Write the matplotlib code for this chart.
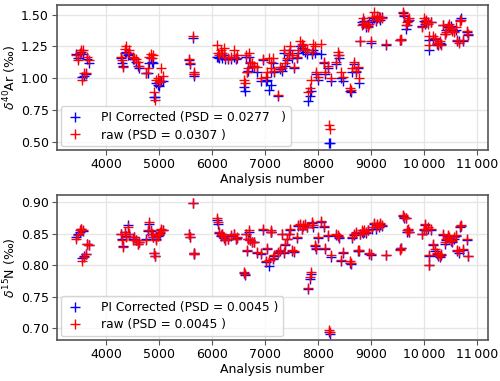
import matplotlib
matplotlib.use('Agg')
from matplotlib import pyplot as plt
from matplotlib.ticker import FuncFormatter

# analysis numbers (shared by both panels)
analysis = [3440, 3470, 3500, 3520, 3540, 3570, 3585, 3620, 3645, 3680,
            4290, 4305, 4320, 4350, 4380, 4410, 4440, 4500, 4530, 4560, 4595, 4625, 4760, 4790, 4815, 4845, 4865, 4880,
            4905, 4920, 4950, 4970, 4990, 5010, 5040, 5070,
            5560, 5575, 5640, 5650, 5665,
            6100, 6115, 6130, 6160, 6185, 6220, 6240, 6290, 6350, 6420, 6440, 6470,
            6600, 6615, 6630, 6660, 6680, 6700, 6720, 6750, 6790, 6850, 6920, 6950,
            7010, 7040, 7070, 7100, 7115, 7150, 7175, 7240, 7270, 7315, 7350, 7380, 7410, 7440, 7470, 7500, 7535,
            7595, 7625, 7655, 7690, 7720, 7750, 7780, 7810, 7840, 7860, 7880, 7900, 7935, 7965, 8000, 8060,
            8100, 8130, 8175, 8205, 8225, 8240, 8340, 8370, 8400, 8430, 8460, 8590, 8610, 8640, 8675, 8705, 8740,
            8760, 8790, 8820, 8840, 8870, 8900, 8930, 8960, 8990, 9020, 9050, 9080, 9110, 9140, 9170, 9200, 9270,
            9540, 9555, 9600, 9620, 9645, 9670, 9700, 9720,
            9960, 9990, 10010, 10040, 10060, 10080, 10095, 10120, 10170, 10200, 10230, 10260, 10290, 10320, 10350,
            10380, 10410, 10440, 10470, 10500, 10530, 10560, 10590, 10620, 10650, 10680, 10700, 10720, 10810, 10830]

ar_raw = [1.18, 1.14, 1.20, 1.22, 0.99, 1.22, 1.04, 1.04, 1.17, 1.14,
          1.17, 1.14, 1.09, 1.23, 1.25, 1.20, 1.22, 1.17, 1.16, 1.15, 1.13, 1.10, 1.04, 1.08, 1.17, 1.19, 1.16, 1.18,
          0.89, 0.83, 0.99, 1.00, 0.97, 0.98, 1.08, 1.02,
          1.15, 1.12, 1.33, 1.05, 1.03,
          1.26, 1.20, 1.18, 1.22, 1.20, 1.24, 1.17, 1.16, 1.17, 1.22, 1.16, 1.18,
          0.99, 0.96, 1.18, 1.05, 1.08, 1.20, 1.13, 1.12, 1.10, 1.09, 1.00, 1.15,
          1.01, 1.05, 1.16, 1.13, 1.08, 1.16, 1.06, 0.87, 1.09, 1.08, 1.22, 1.12, 1.16, 1.20, 1.25, 1.18, 1.09,
          1.17, 1.22, 1.29, 1.27, 1.26, 1.23, 1.22, 0.89, 0.92, 0.99, 1.21, 1.27, 1.25, 1.05, 1.01, 1.27,
          1.13, 1.05, 1.10, 0.63, 0.60, 1.00, 1.13, 1.21, 1.18, 1.05, 1.01, 0.92, 0.91, 1.08, 1.13, 1.06, 1.09,
          1.00, 1.29, 1.42, 1.47, 1.44, 1.42, 1.40, 1.43, 1.29, 1.48, 1.52, 1.46, 1.49, 1.47, 1.48, 1.47, 1.27,
          1.30, 1.31, 1.52, 1.50, 1.42, 1.44, 1.46, 1.47,
          1.40, 1.47, 1.44, 1.46, 1.43, 1.33, 1.26, 1.44, 1.33, 1.32, 1.28, 1.27, 1.29, 1.26, 1.42,
          1.35, 1.36, 1.41, 1.43, 1.39, 1.37, 1.36, 1.40, 1.30, 1.28, 1.45, 1.46, 1.30, 1.37, 1.35]

ar_pi = [1.19, 1.16, 1.19, 1.21, 1.01, 1.19, 1.02, 1.03, 1.15, 1.12,
         1.16, 1.12, 1.10, 1.20, 1.21, 1.18, 1.19, 1.15, 1.15, 1.13, 1.10, 1.08, 1.04, 1.04, 1.12, 1.16, 1.13, 1.12,
         0.85, 0.85, 0.96, 0.95, 0.94, 0.97, 0.98, 0.98,
         1.14, 1.11, 1.32, 1.03, 1.02,
         1.17, 1.17, 1.16, 1.18, 1.16, 1.18, 1.15, 1.15, 1.15, 1.17, 1.15, 1.16,
         0.93, 0.90, 1.17, 1.05, 1.06, 1.17, 1.12, 1.10, 1.09, 1.05, 0.98, 1.14,
         0.98, 0.99, 0.91, 0.95, 1.05, 1.12, 1.05, 0.86, 1.07, 1.06, 1.20, 1.10, 1.14, 1.18, 1.22, 1.16, 1.08,
         1.16, 1.20, 1.25, 1.24, 1.22, 1.21, 1.19, 0.82, 0.86, 0.90, 1.19, 1.22, 1.20, 1.03, 0.99, 1.19,
         1.12, 1.03, 1.08, 0.49, 0.49, 0.98, 1.11, 1.18, 1.16, 1.00, 0.98, 0.90, 0.89, 1.05, 1.11, 1.05, 1.08,
         0.96, 1.29, 1.44, 1.43, 1.45, 1.40, 1.41, 1.44, 1.28, 1.46, 1.47, 1.45, 1.47, 1.48, 1.46, 1.48, 1.26,
         1.30, 1.30, 1.51, 1.49, 1.39, 1.42, 1.45, 1.46,
         1.41, 1.45, 1.43, 1.45, 1.44, 1.30, 1.22, 1.44, 1.31, 1.31, 1.27, 1.26, 1.28, 1.27, 1.42,
         1.35, 1.38, 1.40, 1.40, 1.41, 1.39, 1.37, 1.38, 1.29, 1.29, 1.46, 1.47, 1.29, 1.36, 1.34]

n_raw = [0.842, 0.848, 0.855, 0.858, 0.806, 0.855, 0.813, 0.818, 0.834, 0.832,
         0.850, 0.840, 0.829, 0.853, 0.845, 0.861, 0.850, 0.840, 0.845, 0.840, 0.834, 0.837, 0.840, 0.855, 0.868, 0.855, 0.850, 0.845,
         0.820, 0.815, 0.840, 0.848, 0.850, 0.852, 0.858, 0.855,
         0.850, 0.845, 0.899, 0.820, 0.818,
         0.874, 0.868, 0.852, 0.848, 0.850, 0.845, 0.840, 0.842, 0.848, 0.850, 0.842, 0.845,
         0.790, 0.786, 0.850, 0.824, 0.842, 0.855, 0.840, 0.837, 0.837, 0.821, 0.819, 0.858,
         0.806, 0.827, 0.808, 0.855, 0.853, 0.811, 0.816, 0.821, 0.824, 0.850, 0.821, 0.834, 0.842, 0.850, 0.858, 0.824, 0.822,
         0.845, 0.863, 0.866, 0.858, 0.863, 0.866, 0.861, 0.764, 0.782, 0.790, 0.869, 0.863, 0.832, 0.827, 0.845, 0.870,
         0.862, 0.828, 0.848, 0.697, 0.694, 0.816, 0.850, 0.848, 0.845, 0.808, 0.821, 0.806, 0.804, 0.845, 0.850, 0.853, 0.824,
         0.824, 0.850, 0.855, 0.852, 0.855, 0.852, 0.856, 0.820, 0.818, 0.860, 0.867, 0.860, 0.865, 0.862, 0.867, 0.864, 0.817,
         0.824, 0.827, 0.880, 0.876, 0.875, 0.855, 0.857, 0.852,
         0.850, 0.858, 0.865, 0.857, 0.860, 0.816, 0.801, 0.857, 0.834, 0.825, 0.820, 0.816, 0.815, 0.818, 0.850,
         0.836, 0.842, 0.848, 0.845, 0.840, 0.838, 0.844, 0.848, 0.824, 0.822, 0.862, 0.864, 0.826, 0.842, 0.815]

n_pi = [0.844, 0.850, 0.853, 0.857, 0.812, 0.854, 0.815, 0.818, 0.833, 0.832,
        0.850, 0.841, 0.830, 0.852, 0.846, 0.863, 0.849, 0.841, 0.844, 0.840, 0.833, 0.836, 0.841, 0.854, 0.866, 0.854, 0.849, 0.845,
        0.819, 0.814, 0.842, 0.846, 0.848, 0.851, 0.856, 0.855,
        0.849, 0.844, 0.898, 0.819, 0.818,
        0.872, 0.866, 0.851, 0.846, 0.849, 0.843, 0.840, 0.841, 0.846, 0.849, 0.841, 0.843,
        0.787, 0.785, 0.849, 0.822, 0.841, 0.853, 0.840, 0.836, 0.836, 0.820, 0.818, 0.856,
        0.805, 0.825, 0.799, 0.853, 0.852, 0.810, 0.815, 0.820, 0.823, 0.849, 0.820, 0.832, 0.841, 0.849, 0.856, 0.823, 0.821,
        0.843, 0.862, 0.864, 0.857, 0.862, 0.864, 0.860, 0.762, 0.778, 0.786, 0.867, 0.861, 0.830, 0.826, 0.843, 0.868,
        0.860, 0.826, 0.846, 0.694, 0.692, 0.813, 0.848, 0.846, 0.843, 0.806, 0.820, 0.804, 0.802, 0.843, 0.848, 0.851, 0.822,
        0.822, 0.849, 0.853, 0.851, 0.853, 0.851, 0.855, 0.818, 0.816, 0.858, 0.865, 0.858, 0.863, 0.861, 0.865, 0.862, 0.816,
        0.826, 0.828, 0.878, 0.874, 0.874, 0.853, 0.856, 0.852,
        0.849, 0.856, 0.863, 0.856, 0.858, 0.814, 0.800, 0.856, 0.832, 0.823, 0.818, 0.814, 0.813, 0.817, 0.848,
        0.834, 0.840, 0.846, 0.843, 0.838, 0.836, 0.842, 0.846, 0.822, 0.820, 0.860, 0.862, 0.824, 0.840, 0.814]

psd_ar = ['0.0277   ', '0.0307 ']
psd_n = ['0.0045 ', '0.0045 ']


def thousands(v, pos):
    if v >= 10000:
        s = '%d' % v
        return s[:-3] + '\u2009' + s[-3:]
    return '%d' % v


fig = plt.figure(figsize=(5, 3.81), dpi=100)
ax1 = fig.add_axes([0.114, 0.606, 0.862, 0.381])
ax2 = fig.add_axes([0.114, 0.108, 0.862, 0.380])

panels = [(ax1, ar_pi, ar_raw, psd_ar, r'$\delta^{40}$Ar (‰)', (0.435, 1.576), [0.5, 0.75, 1.0, 1.25, 1.5]),
          (ax2, n_pi, n_raw, psd_n, r'$\delta^{15}$N (‰)', (0.682, 0.911), [0.70, 0.75, 0.80, 0.85, 0.90])]

for ax, pi, raw, psd, ylab, ylim, yt in panels:
    ax.plot(analysis, pi, '+', color='blue', markersize=7, mew=1.0,
            label='PI Corrected (PSD = ' + psd[0] + ')')
    ax.plot(analysis, raw, '+', color='red', markersize=7, mew=1.0,
            label='raw (PSD = ' + psd[1] + ')')
    ax.set_xlim(3075, 11200)
    ax.set_ylim(*ylim)
    ax.set_xticks([4000, 5000, 6000, 7000, 8000, 9000, 10000, 11000])
    ax.set_yticks(yt)
    ax.yaxis.set_major_formatter(FuncFormatter(lambda v, p: '%.2f' % v))
    ax.xaxis.set_major_formatter(FuncFormatter(thousands))
    ax.grid(True, color='#e6e6e6', linewidth=1)
    ax.set_axisbelow(True)
    for s in ax.spines.values():
        s.set_color('#555555')
        s.set_linewidth(1.2)
    ax.tick_params(labelsize=9, color='#555555', length=3.5, pad=2.5)
    ax.set_xlabel('Analysis number', fontsize=9, labelpad=1)
    ax.set_ylabel(ylab, fontsize=9, labelpad=1)
    ax.legend(loc='lower left', fontsize=8.8, handletextpad=1.4, borderaxespad=0.3,
              handlelength=1.5, borderpad=0.4, labelspacing=0.35)

plt.savefig('out.png', dpi=100)
